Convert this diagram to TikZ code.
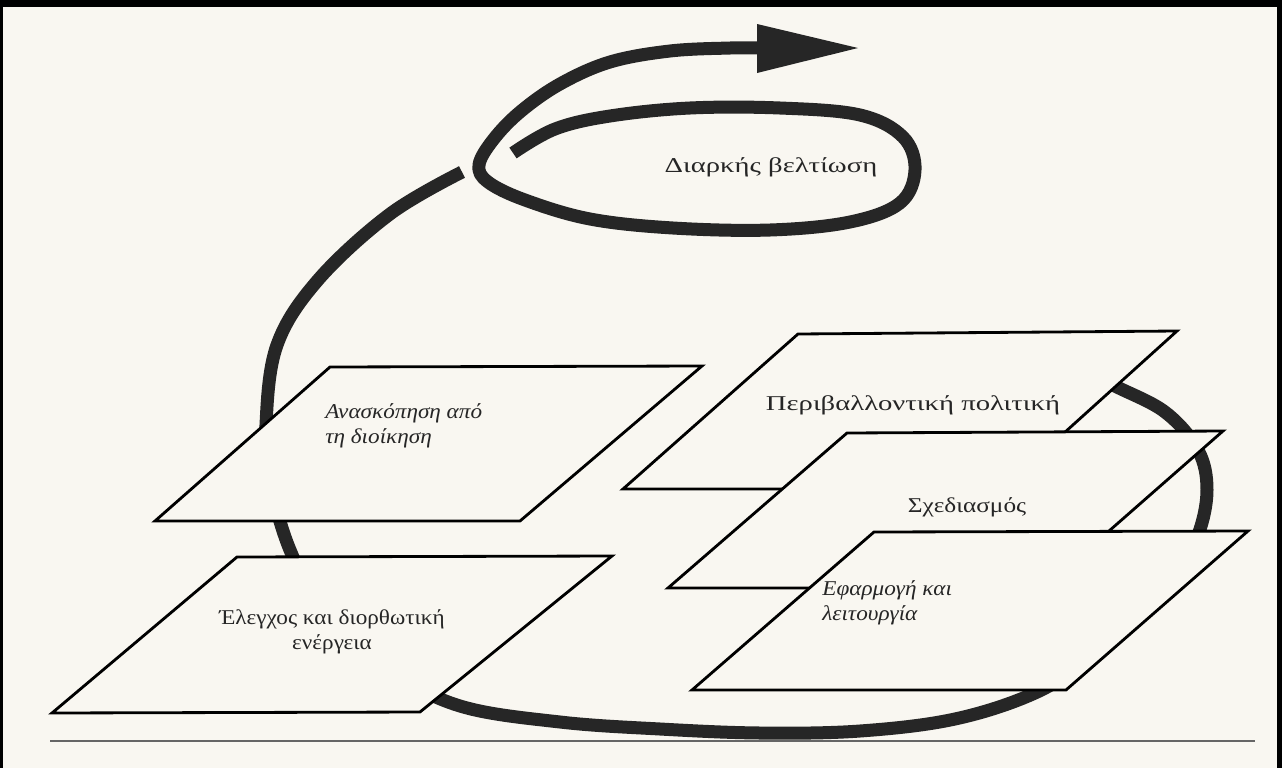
\documentclass[tikz,border=0pt]{standalone}
\usepackage{fontspec}
\setmainfont{Liberation Serif}[FakeStretch=1.1]
\newfontfamily\midfont{Liberation Serif}[FakeStretch=1.2]
\newfontfamily\widefont{Liberation Serif}[FakeStretch=1.36]
\definecolor{paper}{RGB}{249,247,241}
\definecolor{ink}{RGB}{38,38,38}
\begin{document}
\begin{tikzpicture}[x=0.02cm,y=-0.02cm,
  loopline/.style={line width=7.4pt, draw=ink, line cap=butt, line join=round},
  plate/.style={draw=black, line width=1.6pt, fill=paper, line join=miter},
  lbl/.style={font=\fontsize{12}{14.5}\selectfont, inner sep=0pt, text=black!85},
  ilbl/.style={lbl, font=\fontsize{12}{14.5}\selectfont\itshape},
  wlbl/.style={lbl, font=\fontsize{12}{14.5}\widefont},
  mlbl/.style={lbl, font=\fontsize{12}{14.5}\midfont}]
\useasboundingbox (0,0) rectangle (1282,768);
\fill[paper] (0,0) rectangle (1282,768);
% frame
\fill[black] (0,0) rectangle (1282,7);
\fill[black] (0,0) rectangle (3,768);
\fill[black] (1277,0) rectangle (1282,768);
% bottom rule
\coordinate (r1) at (50,741);
\coordinate (r2) at (1255,741);
\draw[black!60, line width=1.4pt] (r1) -- (r2);
% big cycle
\draw[loopline] plot[smooth, tension=0.6] coordinates {(1070,362) (1113,385) (1165,412) (1198,450) (1207,490) (1198,535) (1175,575) (1140,615) (1092,657) (1035,693) (955,719) (860,731) (760,733) (660,729) (560,722) (460,706) (390,670) (325,612) (290,550) (270,480) (266,425) (277,345) (318,280) (390,214) (462,172)};
% spiral: ellipse + rising arc
\draw[loopline] plot[smooth, tension=0.6] coordinates {(513,153) (555,129) (610,116) (690,108) (780,108) (860,115) (903,137) (915,170) (900,203) (850,222) (770,230) (673,228) (590,219) (525,200) (488,182) (479,165) (493,140) (520,112) (560,84) (610,62) (670,51) (730,48) (762,48)};
\coordinate (h1) at (757,24);
\coordinate (h2) at (858,48);
\coordinate (h3) at (757,73);
\fill[ink] (h1) -- (h2) -- (h3) -- cycle;
\node[wlbl] (tD) at (771,167) {Διαρκής βελτίωση};
% plates
\coordinate (A1) at (330,367); \coordinate (A2) at (702,366); \coordinate (A3) at (520,521); \coordinate (A4) at (155,521);
\draw[plate] (A1) -- (A2) -- (A3) -- (A4) -- cycle;
\node[ilbl, anchor=west, align=left] (tA) at (325,426) {Ανασκόπηση από\\τη διοίκηση};
\coordinate (E1) at (237,557); \coordinate (E2) at (612,556); \coordinate (E3) at (420,712); \coordinate (E4) at (52,713);
\draw[plate] (E1) -- (E2) -- (E3) -- (E4) -- cycle;
\node[lbl, align=center] (tE) at (332,632) {Έλεγχος και διορθωτική\\ενέργεια};
\coordinate (P1) at (798,334); \coordinate (P2) at (1177,331); \coordinate (P3) at (1002,489); \coordinate (P4) at (623,489);
\draw[plate] (P1) -- (P2) -- (P3) -- (P4) -- cycle;
\node[wlbl] (tP) at (913,405) {Περιβαλλοντική πολιτική};
\coordinate (S1) at (847,433); \coordinate (S2) at (1223,431); \coordinate (S3) at (1044,588); \coordinate (S4) at (668,588);
\draw[plate] (S1) -- (S2) -- (S3) -- (S4) -- cycle;
\node[mlbl] (tS) at (967,507) {Σχεδιασμός};
\coordinate (F1) at (874,532); \coordinate (F2) at (1248,531); \coordinate (F3) at (1066,690); \coordinate (F4) at (692,690);
\draw[plate] (F1) -- (F2) -- (F3) -- (F4) -- cycle;
\node[ilbl, anchor=west, align=left] (tF) at (822,603) {Εφαρμογή και\\λειτουργία};
\end{tikzpicture}
\end{document}
